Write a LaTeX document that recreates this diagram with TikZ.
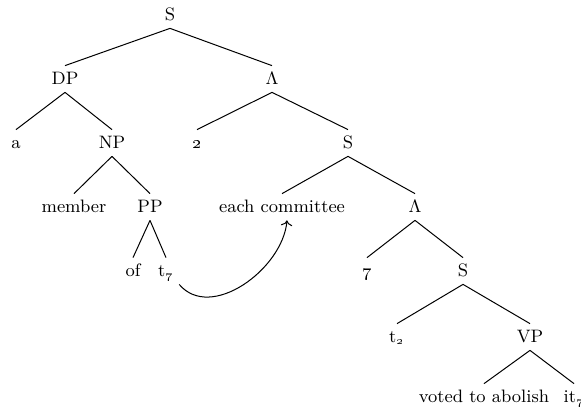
\documentclass[tikz,border=0pt]{standalone}
\usepackage{amsmath}
\usepackage{tikz}
\usetikzlibrary{arrows.meta}
\tikzset{%
  % Specifications for style of nodes:
     label/.style = {font=\small, text height=1.6ex, text depth=.25ex,
                     inner sep=2.5pt},
    branch/.style = {draw=black, line width=0.5pt},
  movement/.style = {draw=black, line width=0.5pt, ->},
                     }

\begin{document}
\begin{tikzpicture}[node distance=32pt, x=0.5pt, y=-0.5pt,
    every node/.style={label}]
  \useasboundingbox (0,0) rectangle (581,406);
  % Specification of nodes (position, etc.)
  \node (root)      at (170,15)                          {S};
  \node (dp)        [below of=root, xshift=-52.5pt]      {DP};
  \node (lambdaA)   [below of=root, xshift=51pt]         {$\Lambda$};
  \node (det)       [below of=dp, xshift=-24.5pt]        {a};
  \node (np)        [below of=dp, xshift=23.5pt]         {NP};
  \node (indexA)    [below of=lambdaA, xshift=-37.5pt]   {\oldstylenums{2}};
  \node (sB)        [below of=lambdaA, xshift=38pt]      {S};
  \node (noun)      [below of=np, xshift=-19pt]          {member};
  \node (pp)        [below of=np, xshift=19pt]           {PP};
  \node (committee) [below of=sB, xshift=-33pt]          {each committee};
  \node (lambdaB)   [below of=sB, xshift=33.5pt]         {$\Lambda$};
  \node (prep)      [below of=pp, xshift=-8.5pt]         {of};
  \node (traceA)    [below of=pp, xshift=8pt]            {t\textsubscript{\oldstylenums{7}}};
  \node (indexB)    [below of=lambdaB, xshift=-24pt]     {\oldstylenums{7}};
  \node (sC)        [below of=lambdaB, xshift=24pt]      {S};
  \node (traceB)    [below of=sC, xshift=-33pt, yshift=-1pt] {t\textsubscript{\oldstylenums{2}}};
  \node (vp)        [below of=sC, xshift=33.5pt, yshift=-1pt] {VP};
  \node (verb)      [below of=vp, xshift=-23pt, yshift=2pt]  {voted to abolish};
  \node (pron)      [below of=vp, xshift=22pt, yshift=2pt]   {it\textsubscript{\oldstylenums{7}}};

  % Specification of branches between nodes specified above
  \draw[branch] (root.south) -- (dp.north);
  \draw[branch] (root.south) -- (lambdaA.north);
  \draw[branch] (dp.south) -- (det.north);
  \draw[branch] (dp.south) -- (np.north);
  \draw[branch] (lambdaA.south) -- (indexA.north);
  \draw[branch] (lambdaA.south) -- (sB.north);
  \draw[branch] (np.south) -- (noun.north);
  \draw[branch] (np.south) -- (pp.north);
  \draw[branch] (sB.south) -- (committee.north);
  \draw[branch] (sB.south) -- (lambdaB.north);
  \draw[branch] (pp.south) -- (prep.north);
  \draw[branch] (pp.south) -- (traceA.north);
  \draw[branch] (lambdaB.south) -- (indexB.north);
  \draw[branch] (lambdaB.south) -- (sC.north);
  \draw[branch] (sC.south) -- (traceB.north);
  \draw[branch] (sC.south) -- (vp.north);
  \draw[branch] (vp.south) -- (verb.north);
  \draw[branch] (vp.south) -- (pron.north);

  % movement arrow
  \draw[movement] (traceA.south east) to[out=-50, in=-95]
    ([xshift=2.5pt]committee.south);
\end{tikzpicture}
\end{document}
